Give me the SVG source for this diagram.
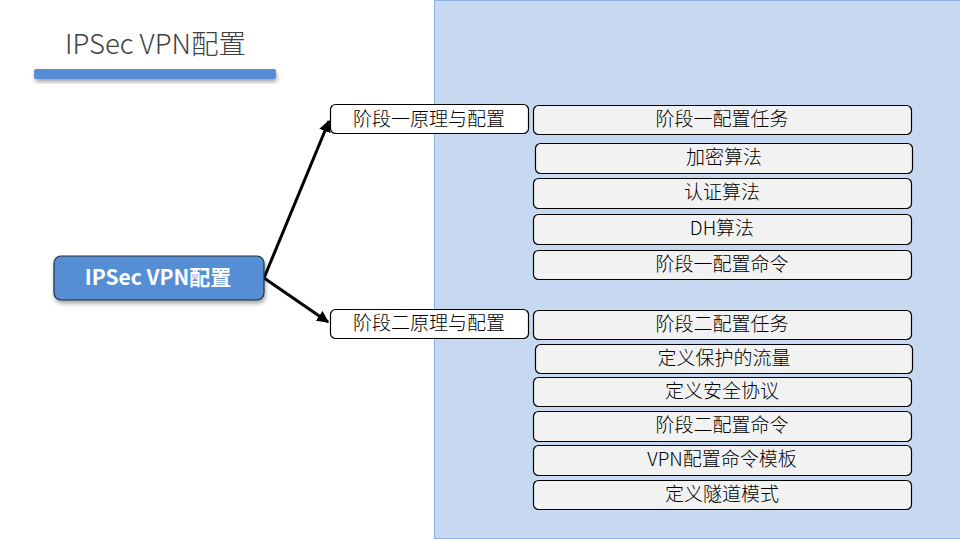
<svg xmlns="http://www.w3.org/2000/svg" width="960" height="540" viewBox="0 0 960 540">
<defs>
<style>
text{font-family:"Noto Sans CJK SC","Noto Sans",sans-serif;}
.box{fill:#f2f2f2;stroke:#000;stroke-width:1.2;}
.lbox{fill:#fff;stroke:#000;stroke-width:1.2;}
.t{font-size:19px;fill:#000;text-anchor:middle;font-weight:300;}
.c{stroke:#000;stroke-width:3;fill:none;marker-end:url(#ah);}
</style>
<marker id="ah" viewBox="0 0 10 10" refX="9" refY="5" markerWidth="4" markerHeight="4" orient="auto" markerUnits="strokeWidth">
<path d="M0,0 L10,5 L0,10 Z" fill="#000"/>
</marker>
<filter id="sh" x="-10%" y="-30%" width="120%" height="180%">
<feDropShadow dx="1" dy="3" stdDeviation="2" flood-color="#000" flood-opacity="0.35"/>
</filter>
</defs>
<rect width="960" height="540" fill="#fff"/>
<rect x="434.5" y="0.5" width="530" height="538" fill="#c6d9f1" stroke="#8eb4e3" stroke-width="1"/>
<g id="title">
<text x="65" y="54" font-size="27.5" fill="#404040" font-weight="300">IPSec VPN配置</text>
<rect x="34" y="69" width="242" height="10" rx="2" fill="#558ed5" filter="url(#sh)"/>
</g>
<g id="connectors">
<line class="c" x1="264" y1="278" x2="329" y2="121"/>
<line class="c" x1="264" y1="278" x2="328" y2="322"/>
</g>
<g id="root">
<rect x="54" y="256" width="210" height="44" rx="7" fill="#558ed5" stroke="#1f2d3d" stroke-width="1.2" filter="url(#sh)"/>
<text x="158" y="285" font-size="21" font-weight="bold" fill="#fff" text-anchor="middle">IPSec VPN配置</text>
</g>
<g id="phase1">
<rect class="lbox" x="330.5" y="104.5" width="198" height="29" rx="5"/>
<text class="t" x="429" y="126">阶段一原理与配置</text>
</g>
<g id="phase2">
<rect class="lbox" x="330.5" y="309.5" width="198" height="29" rx="5"/>
<text class="t" x="429" y="330">阶段二原理与配置</text>
</g>
<g id="p1task"><rect class="box" x="533.5" y="105.5" width="378" height="29" rx="5"/><text class="t" x="722" y="126">阶段一配置任务</text></g>
<g id="enc"><rect class="box" x="535.5" y="143.5" width="377" height="30" rx="5"/><text class="t" x="724" y="164">加密算法</text></g>
<g id="auth"><rect class="box" x="533.5" y="178.5" width="378" height="30" rx="5"/><text class="t" x="722" y="199">认证算法</text></g>
<g id="dh"><rect class="box" x="533.5" y="214.5" width="378" height="30" rx="5"/><text class="t" x="722" y="235">DH算法</text></g>
<g id="p1cmd"><rect class="box" x="533.5" y="250.5" width="378" height="29" rx="5"/><text class="t" x="722" y="271">阶段一配置命令</text></g>
<g id="p2task"><rect class="box" x="533.5" y="310.5" width="378" height="29" rx="5"/><text class="t" x="722" y="331">阶段二配置任务</text></g>
<g id="flow"><rect class="box" x="535.5" y="344.5" width="377" height="29" rx="5"/><text class="t" x="724" y="365">定义保护的流量</text></g>
<g id="proto"><rect class="box" x="533.5" y="377.5" width="378" height="29" rx="5"/><text class="t" x="722" y="398">定义安全协议</text></g>
<g id="p2cmd"><rect class="box" x="533.5" y="411.5" width="378" height="30" rx="5"/><text class="t" x="722" y="432">阶段二配置命令</text></g>
<g id="tmpl"><rect class="box" x="533.5" y="445.5" width="378" height="30" rx="5"/><text class="t" x="722" y="466">VPN配置命令模板</text></g>
<g id="tunnel"><rect class="box" x="533.5" y="480.5" width="378" height="29" rx="5"/><text class="t" x="722" y="501">定义隧道模式</text></g>
</svg>
